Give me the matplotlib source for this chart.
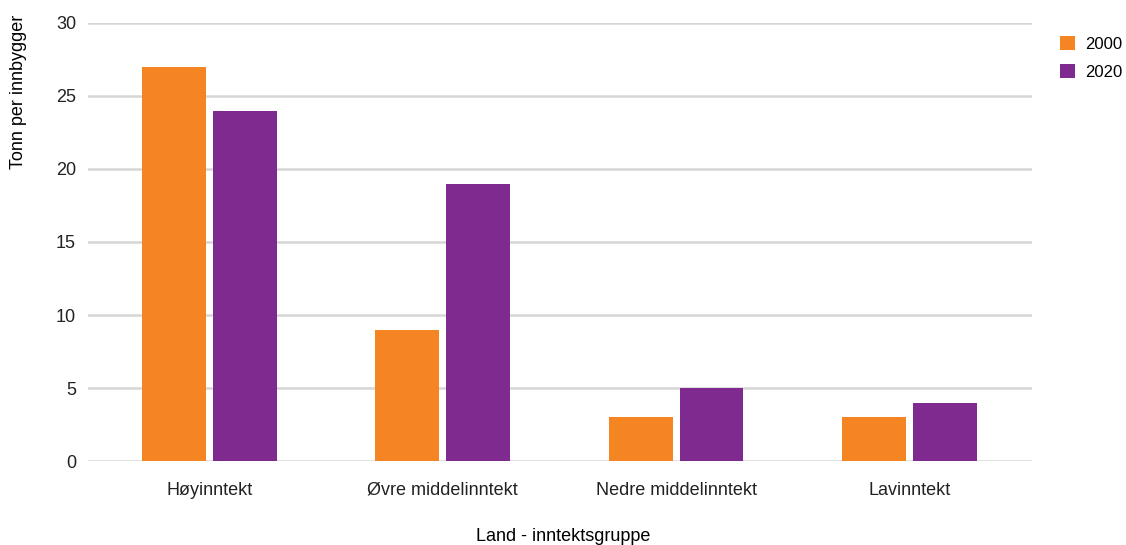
import matplotlib
matplotlib.use("Agg")
import matplotlib.pyplot as plt
import numpy as np

plt.rcParams["font.family"] = ["Liberation Sans", "DejaVu Sans"]

categories = ["Høyinntekt", "Øvre middelinntekt", "Nedre middelinntekt", "Lavinntekt"]
years = ["2000", "2020"]
values_2000 = [27, 9, 3, 3]
values_2020 = [24, 19, 5, 4]
colors = ["#F58423", "#7F2A8E"]

fig = plt.figure(figsize=(11.26, 5.45), dpi=100)
ax = fig.add_axes([0.078, 0.154, 0.8385, 0.804])

x = np.arange(len(categories))
w = 0.274
off = 0.152
ax.bar(x - off, values_2000, w, color=colors[0], label=years[0], zorder=3)
ax.bar(x + off, values_2020, w, color=colors[1], label=years[1], zorder=3)

ax.set_xlim(-0.52, 3.525)
ax.set_ylim(0, 30)
ax.set_yticks([0, 5, 10, 15, 20, 25, 30])
ax.yaxis.grid(True, color="#d6d6d6", lw=1.8, zorder=0)
ax.set_xticks(x)
ax.set_xticklabels(categories)
for s in ax.spines.values():
    s.set_visible(False)
ax.tick_params(axis="both", length=0, labelsize=13, colors="#222222")
ax.tick_params(axis="x", pad=15)
ax.tick_params(axis="y", pad=8.5)

fig.text(0.016, 0.831, "Tonn per innbygger", rotation=90, ha="center", va="center", fontsize=13)
fig.text(0.5, 0.016, "Land - inntektsgruppe", ha="center", va="center", fontsize=13)

leg = fig.legend(loc="upper left", bbox_to_anchor=(0.9414, 0.934), frameon=False,
                 fontsize=12, handlelength=0.9, handleheight=0.9, handletextpad=0.6,
                 labelspacing=0.74, borderaxespad=0, borderpad=0)

fig.savefig("out.png", dpi=100)
